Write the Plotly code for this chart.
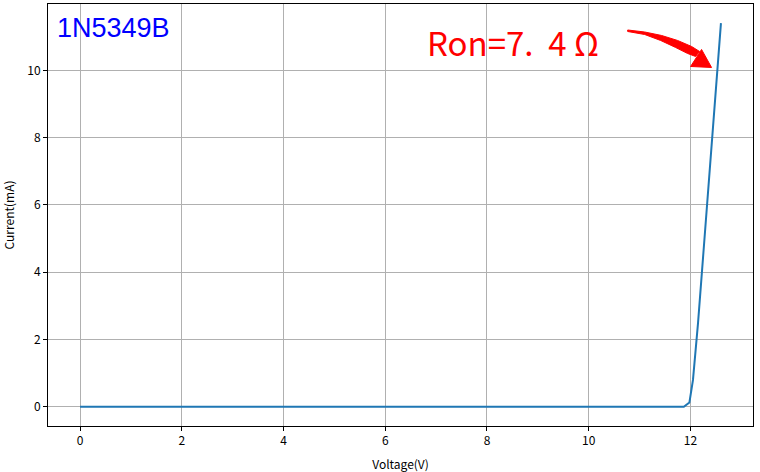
import plotly.graph_objects as go

voltage = [0, 2, 4, 6, 8, 10, 11.87, 11.98, 12.05, 12.15, 12.25, 12.35, 12.45, 12.52, 12.6]
current = [0, 0, 0, 0, 0, 0, 0, 0.13, 0.8, 2.5, 4.5, 6.5, 8.5, 10.0, 11.4]

x_ticks = [0, 2, 4, 6, 8, 10, 12]
y_ticks = [0, 2, 4, 6, 8, 10]

x_range = [-0.63, 13.23]
y_range = [-0.57, 11.97]

# plot area in pixels (used to place the curved arrow)
L, R, T, B = 47.5, 753.5, 3.5, 425.7


def px(x, y):
    dx = x_range[0] + (x - L) / (R - L) * (x_range[1] - x_range[0])
    dy = y_range[1] - (y - T) / (B - T) * (y_range[1] - y_range[0])
    return dx, dy


def path(points):
    pts = [px(a, b) for a, b in points]
    return "M " + " L ".join(f"{a:.4f},{b:.4f}" for a, b in pts) + " Z"


arrow_body = [(628, 29.5), (645, 31.5), (662, 35), (678, 40), (692, 46), (700, 51),
              (696, 56), (688, 53), (676, 47), (661, 40), (645, 34), (628, 31)]
arrow_head = [(691, 66), (702, 49), (712, 67)]

fig = go.Figure()
fig.add_trace(go.Scatter(x=voltage, y=current, mode="lines",
                         line=dict(color="#1f77b4", width=2), showlegend=False))

fig.add_shape(type="path", path=path(arrow_body), fillcolor="red",
              line=dict(color="red", width=1), xref="x", yref="y")
fig.add_shape(type="path", path=path(arrow_head), fillcolor="red",
              line=dict(color="red", width=1), xref="x", yref="y")

fig.add_annotation(x=-0.5, y=11.25, text="1N5349B", showarrow=False,
                   xanchor="left", yanchor="middle",
                   font=dict(family="Liberation Sans", size=27, color="blue"))
fig.add_annotation(x=6.78, y=10.85, text="Ron=7.&nbsp;&nbsp;4&nbsp;Ω", showarrow=False,
                   xanchor="left", yanchor="middle",
                   font=dict(family="Noto Sans CJK SC", size=33, color="red"))

axis_style = dict(showline=True, linecolor="black", linewidth=1, mirror=True,
                  ticks="outside", ticklen=4, tickcolor="black",
                  showgrid=True, gridcolor="#b0b0b0", gridwidth=1,
                  zeroline=False, automargin=False,
                  tickfont=dict(size=12, color="black"))

fig.update_xaxes(range=x_range, tickvals=x_ticks,
                 title=dict(text="Voltage(V)", font=dict(size=12, color="black")),
                 **axis_style)
fig.update_yaxes(range=y_range, tickvals=y_ticks,
                 title=dict(text="Current(mA)", font=dict(size=12, color="black")),
                 **axis_style)

fig.update_layout(
    width=760, height=472,
    margin=dict(l=47.5, r=6.5, t=3.5, b=46.3),
    plot_bgcolor="white", paper_bgcolor="white",
    font=dict(family="Noto Sans CJK SC", color="black"),
)

fig.write_html("out.html", config={"displayModeBar": False},
               post_script="document.body.style.margin='0px';")
